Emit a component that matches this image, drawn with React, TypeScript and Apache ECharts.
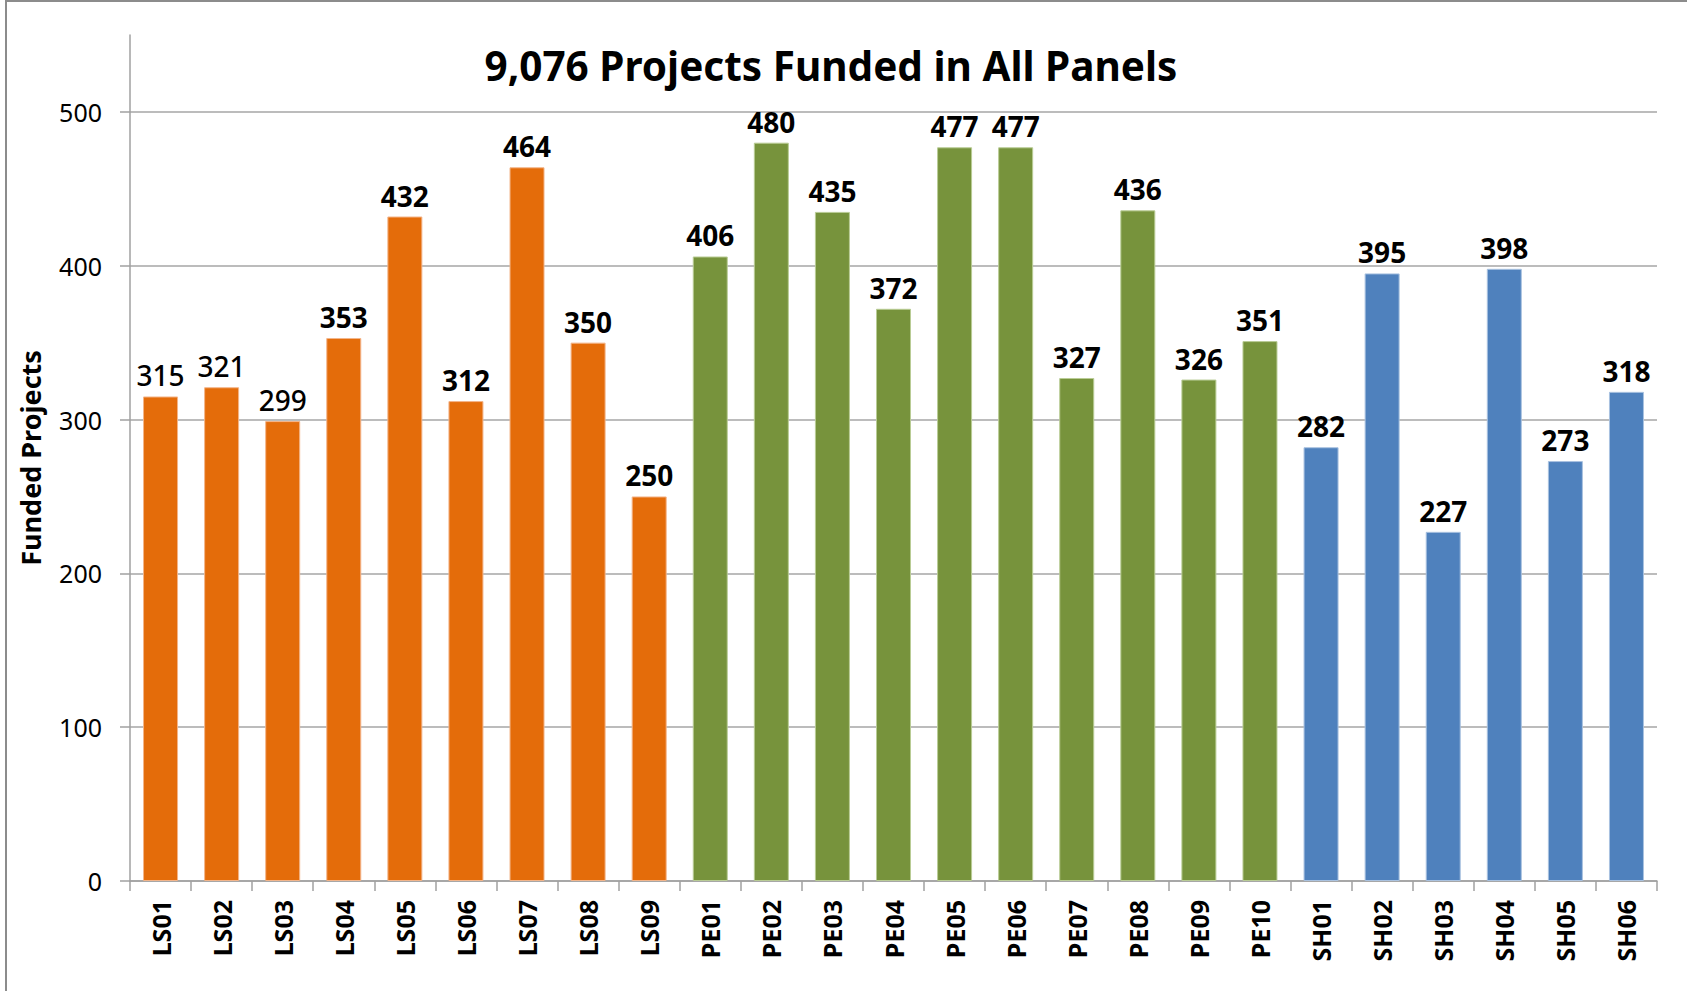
import React, { useEffect, useRef } from "react";
import * as echarts from "echarts";

const lsPanels = ["LS01", "LS02", "LS03", "LS04", "LS05", "LS06", "LS07", "LS08", "LS09"];
const lsValues = [315, 321, 299, 353, 432, 312, 464, 350, 250];
const pePanels = ["PE01", "PE02", "PE03", "PE04", "PE05", "PE06", "PE07", "PE08", "PE09", "PE10"];
const peValues = [406, 480, 435, 372, 477, 477, 327, 436, 326, 351];
const shPanels = ["SH01", "SH02", "SH03", "SH04", "SH05", "SH06"];
const shValues = [282, 395, 227, 398, 273, 318];
const yTicks = [0, 100, 200, 300, 400, 500];
const lighterLabelPanels = ["LS01", "LS02", "LS03"];

const titleText = "9,076 Projects Funded in All Panels";
const yName = "Funded Projects";

const FONT = "'Noto Sans', 'DejaVu Sans', sans-serif";

export default function App() {
  const ref = useRef<HTMLDivElement>(null);

  useEffect(() => {
    document.body.style.margin = "0";
    if (!ref.current) return;
    const chart = echarts.init(ref.current, null, { renderer: "svg" });

    const groups = [
      { names: lsPanels, values: lsValues, color: "#E46C0A", border: "#F3B58A" },
      { names: pePanels, values: peValues, color: "#77933C", border: "#B9CC95" },
      { names: shPanels, values: shValues, color: "#4F81BD", border: "#A9C2E0" },
    ];
    const categories: string[] = [];
    const data: any[] = [];
    groups.forEach((g) => {
      g.names.forEach((n, i) => {
        categories.push(n);
        data.push({
          value: g.values[i],
          itemStyle: { color: g.color, borderColor: g.border, borderWidth: 1 },
          label: { fontWeight: lighterLabelPanels.includes(n) ? 500 : "bold" },
        });
      });
    });

    chart.setOption({
      animation: false,
      backgroundColor: "#ffffff",
      title: {
        text: titleText,
        left: 826,
        textAlign: "center",
        top: 40,
        textStyle: { fontFamily: FONT, fontSize: 40.5, fontWeight: "bold", color: "#000" },
      },
      grid: { left: 130, right: 30, top: 35, bottom: 110, containLabel: false },
      xAxis: {
        type: "category",
        data: categories,
        axisLine: { lineStyle: { color: "#A0A0A0", width: 1.5 } },
        axisTick: { show: true, length: 10, lineStyle: { color: "#A0A0A0", width: 1.5 } },
        axisLabel: {
          rotate: 90,
          interval: 0,
          margin: 19,
          fontFamily: FONT,
          fontSize: 25,
          fontWeight: "bold",
          color: "#000",
        },
      },
      yAxis: {
        type: "value",
        min: 0,
        max: 550,
        interval: 100,
        name: yName,
        nameLocation: "middle",
        nameGap: 86,
        nameRotate: 90,
        nameTextStyle: { fontFamily: FONT, fontSize: 27, fontWeight: "bold", color: "#000" },
        axisLine: { show: true, lineStyle: { color: "#A0A0A0", width: 1.5 } },
        axisTick: {
          show: true,
          length: 10,
          customValues: yTicks,
          lineStyle: { color: "#A0A0A0", width: 1.5 },
        },
        axisLabel: {
          customValues: yTicks,
          margin: 28,
          fontFamily: FONT,
          fontSize: 25,
          color: "#000",
        },
        splitLine: { show: true, lineStyle: { color: "#A6A6A6", width: 1.5 } },
      },
      series: [
        {
          type: "bar",
          data,
          barWidth: 35,
          label: {
            show: true,
            position: "top",
            distance: 7,
            fontFamily: FONT,
            fontSize: 28,
            color: "#000",
          },
        },
      ],
      graphic: [
        {
          type: "rect",
          shape: { x: 6, y: 1, width: 1700, height: 1000 },
          style: { fill: "none", stroke: "#8C8C8C", lineWidth: 2 },
          silent: true,
        },
      ],
    });

    return () => chart.dispose();
  }, []);

  return <div ref={ref} style={{ width: 1687, height: 991 }} />;
}
